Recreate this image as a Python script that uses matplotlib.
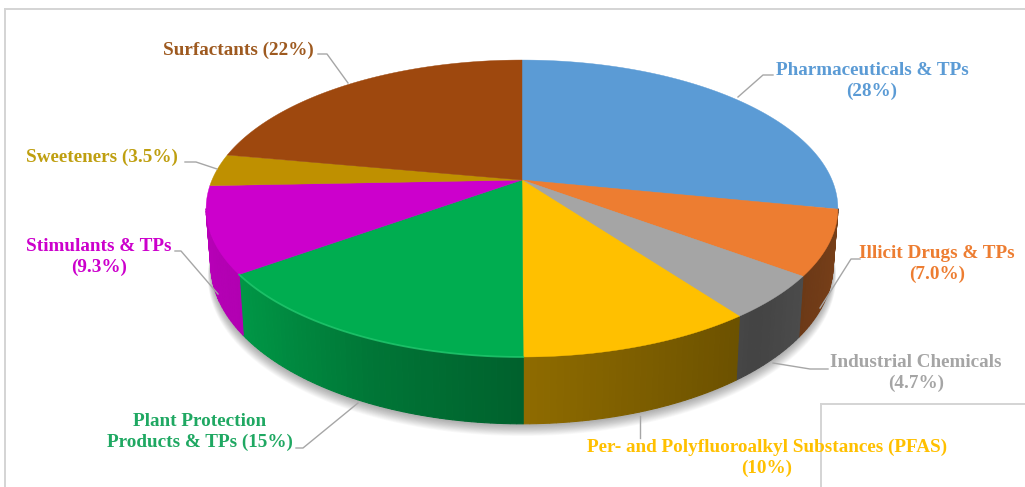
import numpy as np
import matplotlib
matplotlib.use("Agg")
import matplotlib.pyplot as plt
from matplotlib.patches import Polygon

W, H = 1025, 487
categories = ["Pharmaceuticals & TPs", "Illicit Drugs & TPs", "Industrial Chemicals",
              "Per- and Polyfluoroalkyl Substances (PFAS)", "Plant Protection Products & TPs",
              "Stimulants & TPs", "Sweeteners", "Surfactants"]
shares = [28, 7.0, 4.7, 10, 15, 9.3, 3.5, 22]
top_colors = ["#5B9BD5", "#ED7D31", "#A5A5A5", "#FFC000", "#00AD50", "#CC00CC", "#BF9000", "#9E480E"]
label_colors = ["#5B9BD5", "#ED7D31", "#A5A5A5", "#FFC000", "#1FA862", "#CC00CC", "#BF9F10", "#9E5A20"]
label_texts = ["Pharmaceuticals & TPs\n(28%)", "Illicit Drugs & TPs\n(7.0%)", "Industrial Chemicals\n(4.7%)",
               "Per- and Polyfluoroalkyl Substances (PFAS)\n(10%)", "Plant Protection\nProducts & TPs (15%)",
               "Stimulants & TPs\n(9.3%)", "Sweeteners (3.5%)", "Surfactants (22%)"]
label_xy = [(872, 81), (937, 264), (916, 373), (767, 458), (200, 432), (99, 257), (102, 157), (238, 50)]
leaders = [[(773, 75), (763, 75), (738, 97)], [(860, 259), (851, 259), (820, 308)],
           [(828, 369), (810, 369), (773, 363)], [(640, 438), (640, 416)],
           [(296, 448), (303, 448), (358, 403)], [(175, 251), (181, 251), (218, 294)],
           [(185, 162), (196, 162), (217, 169)], [(318, 54), (327, 54), (348, 83)]]

# Tilted-disc projection: pie angle to pixel position
CX, CY, R, A, C, DEPTH, TAPER = 522, 180, 310, 143, 0.192, 54, 0.015


def rim(theta, drop=0.0):
    s, c = np.sin(theta), np.cos(theta)
    d = 1 + C * s
    return CX + R * c / d * (1 - TAPER * drop), CY - A * s / d + drop * DEPTH / d


def wall_shade(pos):
    # Brightness of the side wall against horizontal position on the disc
    return np.interp(pos, [-1, -0.8, -0.4, 0, 0.65, 0.95, 1], [0.90, 0.87, 0.68, 0.56, 0.41, 0.50, 0.50])


fig = plt.figure(figsize=(W / 100, H / 100), dpi=100)
ax = fig.add_axes([0, 0, 1, 1])
ax.set_xlim(0, W)
ax.set_ylim(H, 0)
ax.axis("off")

# Frame fragments
for xs, ys in [((5, 5), (487, 9)), ((5, 1025), (9, 9)), ((821, 821), (487, 404)), ((821, 1025), (404, 404))]:
    ax.plot(xs, ys, color="#D4D4D4", lw=1.4, zorder=1)

fractions = np.array(shares) / sum(shares)
edges = np.concatenate([[0], np.cumsum(fractions)])
angles = np.pi / 2 - 2 * np.pi * edges

# Soft shadow under the disc
t = np.linspace(0, 2 * np.pi, 360)
for k in range(14, 0, -1):
    x, y = rim(t, 1.0)
    ax.add_patch(Polygon(np.c_[CX + (x - CX) * (1 + k * 0.0007), y + k * 0.8 + 1], fc="#000000", alpha=0.022,
                         ec="none", zorder=2))

# Side wall, shaded in thin strips over the front half of the disc
wall_start = np.pi + np.arcsin(C)
wall_end = 2 * np.pi - np.arcsin(C)
for i in range(len(shares)):
    base = np.array(matplotlib.colors.to_rgb(top_colors[i]))
    hi = angles[i] % (2 * np.pi) or 2 * np.pi
    lo = hi - (angles[i] - angles[i + 1])
    for shift in (0, 2 * np.pi):
        a1 = min(hi + shift, wall_end)
        a0 = max(lo + shift, wall_start)
        if a1 <= a0:
            continue
        tt = np.linspace(a1, a0, max(3, int((a1 - a0) * 60)))
        for u, v in zip(tt[:-1], tt[1:]):
            col = base * wall_shade(np.cos((u + v) / 2))
            x0, y0 = rim(u)
            x1, y1 = rim(v)
            x2, y2 = rim(v, 1.0)
            x3, y3 = rim(u, 1.0)
            ax.add_patch(Polygon([(x0, y0), (x1, y1), (x2, y2), (x3, y3)], fc=col, ec=col, lw=0.8, zorder=3))

# Top face
for i in range(len(shares)):
    tt = np.linspace(angles[i], angles[i + 1], 120)
    x, y = rim(tt)
    ax.add_patch(Polygon(np.r_[[[CX, CY]], np.c_[x, y]], fc=top_colors[i], ec=top_colors[i], lw=0.3, zorder=4))

# Bevel highlight along the front rim of the plant-protection slice
tt = np.linspace(angles[4], angles[5], 80)
x, y = rim(tt)
ax.plot(x, y, color="#22C76E", lw=1.3, alpha=0.8, zorder=5)

for pts in leaders:
    xs, ys = zip(*pts)
    ax.plot(xs, ys, color="#A6A6A6", lw=1.0, zorder=6)

for text, (x, y), col in zip(label_texts, label_xy, label_colors):
    ax.text(x, y, text, color=col, ha="center", va="center", fontsize=13.8, fontweight="bold",
            family="Liberation Serif", linespacing=1.3, zorder=7)

fig.savefig("out.png", dpi=100, facecolor="white")
